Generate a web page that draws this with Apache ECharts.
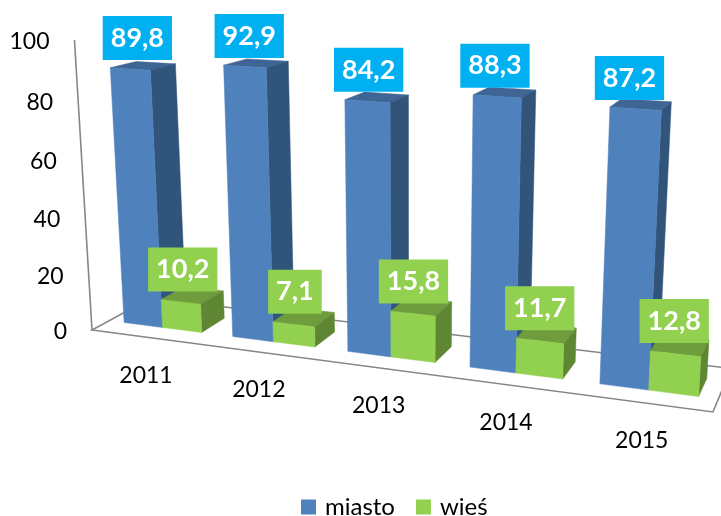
<!DOCTYPE html>
<html lang="pl">
<head>
    <meta charset="UTF-8">
    <title>miasto / wieś</title>
    <script src="https://cdn.jsdelivr.net/npm/echarts@6/dist/echarts.min.js"></script>
    <style>
        html, body { margin: 0; padding: 0; background: #fff; overflow: hidden; }
    </style>
</head>
<body>
<div id="main" style="width: 721px;height:516px;"></div>

<script>
    var years = ['2011', '2012', '2013', '2014', '2015'];
    var miasto = [89.8, 92.9, 84.2, 88.3, 87.2];
    var wies = [10.2, 7.1, 15.8, 11.7, 12.8];
    var yTicks = [0, 20, 40, 60, 80, 100];

    var FONT = 'Lato, Carlito, sans-serif';

    // perspective of the 3D chart box: floor along (u, d), height along v, all 0..1
    function project(u, d, v) {
        var den = 1 - 0.1426 * u + 0.0751 * d - 0.05216 * v;
        return [
            (519.3 * u + 70.3 * d + 92 - 21.4 * v) / den,
            (23.25 * u - 9.6 * d + 330 - 292.1 * v) / den
        ];
    }

    // axis scales -> unit box -> screen
    function place(api, x, d, value) {
        var o = api.coord([0, 0]);
        var e = api.coord([5, 100]);
        var p = api.coord([x, value]);
        return project((p[0] - o[0]) / (e[0] - o[0]), d, (p[1] - o[1]) / (e[1] - o[1]));
    }

    function face(points, color) {
        return {
            type: 'polygon',
            shape: { points: points },
            style: { fill: color, stroke: color, lineWidth: 0.5 }
        };
    }

    var D_FRONT = 0.28, D_BACK = 0.7, BAR = 0.36;

    function barRender(offset, colors) {
        return function (params, api) {
            var i = api.value(0);
            var x0 = i + offset;
            var x1 = x0 + BAR;
            var v = api.value(1);
            var fbl = place(api, x0, D_FRONT, 0), fbr = place(api, x1, D_FRONT, 0);
            var ftl = place(api, x0, D_FRONT, v), ftr = place(api, x1, D_FRONT, v);
            var bbr = place(api, x1, D_BACK, 0);
            var btl = place(api, x0, D_BACK, v), btr = place(api, x1, D_BACK, v);
            // value box sits on the back edge of the top face, drifting to the right with the year
            var anchor = place(api, x0 + colors.shift[0] + colors.shift[1] * i, D_BACK, v);
            return {
                type: 'group',
                children: [
                    face([ftl, ftr, btr, btl], colors.top),
                    face([fbr, bbr, btr, ftr], colors.side),
                    face([fbl, fbr, ftr, ftl], colors.front),
                    {
                        type: 'text',
                        style: {
                            text: String(v).replace('.', ','),
                            x: anchor[0],
                            y: anchor[1] + colors.lift[0] + colors.lift[1] * i,
                            fill: '#fff',
                            font: 'bold 27px ' + FONT,
                            align: 'center',
                            verticalAlign: 'bottom',
                            lineHeight: 28,
                            backgroundColor: colors.label,
                            padding: [8, 8, 8, 8]
                        }
                    }
                ]
            };
        };
    }

    function floorRender(params, api) {
        var a = place(api, 0, 0, 0), b = place(api, 5, 0, 0);
        var c = place(api, 5, 1, 0), d = place(api, 0, 1, 0);
        var top = place(api, 0, 0, 100);
        var line = { fill: 'none', stroke: '#868686', lineWidth: 1.6 };
        return {
            type: 'group',
            children: [
                { type: 'polygon', shape: { points: [a, b, c, d] }, style: line },
                { type: 'line', shape: { x1: a[0], y1: a[1], x2: top[0], y2: top[1] }, style: line }
            ]
        };
    }

    function tickRender(params, api) {
        var p = place(api, 0, 0, api.value(0));
        return {
            type: 'text',
            style: {
                text: String(api.value(0)),
                x: p[0] - 25,
                y: p[1] + 2,
                fill: '#000',
                font: '23px ' + FONT,
                align: 'right',
                verticalAlign: 'middle'
            }
        };
    }

    function yearRender(params, api) {
        var p = place(api, api.value(0) + 0.5, 0, 0);
        return {
            type: 'text',
            style: {
                text: years[api.value(0)],
                x: p[0],
                y: p[1] + 38,
                fill: '#000',
                font: '23px ' + FONT,
                align: 'center',
                verticalAlign: 'middle'
            }
        };
    }

    var blue = {
        front: '#4F81BD', side: '#31547B', top: '#3E6594', label: '#00B0F0',
        shift: [0.01, 0.012], lift: [-1.7, 0.6]
    };
    var green = {
        front: '#92D050', side: '#5F8733', top: '#6F9C3D', label: '#92D050',
        shift: [-0.02, 0.031], lift: [5.5, 0.4]
    };

    var chart = echarts.init(document.getElementById('main'));
    var option = {
        animation: false,
        grid: { left: 0, right: 0, top: 0, bottom: 0 },
        xAxis: { type: 'value', min: 0, max: 5, show: false },
        yAxis: { type: 'value', min: 0, max: 100, show: false },
        legend: {
            data: ['miasto', 'wieś'],
            left: 301,
            top: 495,
            padding: 0,
            icon: 'rect',
            itemWidth: 15,
            itemHeight: 15,
            itemGap: 21,
            selectedMode: false,
            textStyle: { fontFamily: FONT, fontSize: 24, color: '#000', padding: [0, 0, 0, 4] }
        },
        series: [
            { type: 'custom', silent: true, renderItem: floorRender, data: [[0]] },
            { type: 'custom', silent: true, renderItem: tickRender, data: yTicks.map(function (t) { return [t]; }) },
            { type: 'custom', silent: true, renderItem: yearRender, data: years.map(function (y, i) { return [i]; }) },
            {
                name: 'miasto',
                type: 'custom',
                silent: true,
                itemStyle: { color: blue.front },
                renderItem: barRender(0.14, blue),
                data: miasto.map(function (v, i) { return [i, v]; })
            },
            {
                name: 'wieś',
                type: 'custom',
                silent: true,
                itemStyle: { color: green.front },
                renderItem: barRender(0.5, green),
                data: wies.map(function (v, i) { return [i, v]; })
            }
        ]
    };
    chart.setOption(option);
</script>
</body>
</html>
